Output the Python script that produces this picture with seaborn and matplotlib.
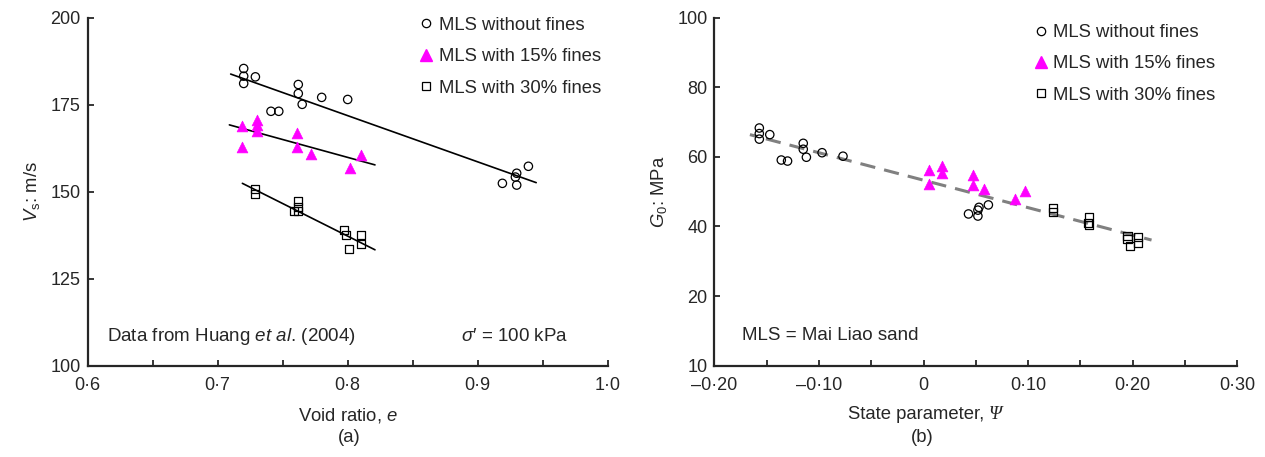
import pandas as pd
import numpy as np
import matplotlib
matplotlib.use("Agg")
import matplotlib.pyplot as plt
import seaborn as sns
from matplotlib.lines import Line2D
from matplotlib.ticker import MultipleLocator

# =============================================
# 1. Dados - painel (a): Vs x índice de vazios
# =============================================
e_sem_finos = [0.720, 0.720, 0.720, 0.729, 0.762, 0.762, 0.765, 0.741, 0.747, 0.780, 0.800,
               0.919, 0.929, 0.930, 0.930, 0.939]
vs_sem_finos = [185.4, 183.2, 181.1, 183.0, 180.8, 178.2, 175.1, 173.1, 173.1, 177.1, 176.5,
                152.4, 154.2, 155.3, 151.9, 157.3]

e_15_finos = [0.719, 0.719, 0.730, 0.730, 0.730, 0.761, 0.761, 0.772, 0.802, 0.810]
vs_15_finos = [168.8, 162.7, 170.7, 169.1, 167.4, 166.9, 162.7, 160.8, 156.9, 160.5]

e_30_finos = [0.729, 0.729, 0.759, 0.762, 0.762, 0.762, 0.797, 0.799, 0.801, 0.810, 0.810]
vs_30_finos = [150.8, 149.4, 144.4, 144.4, 145.6, 147.2, 138.9, 137.6, 133.6, 137.6, 134.9]

# retas de tendência
reta_a_sem_x = [0.710, 0.945]
reta_a_sem_y = [183.8, 152.6]
reta_a_15_x = [0.709, 0.821]
reta_a_15_y = [169.2, 157.7]
reta_a_30_x = [0.719, 0.821]
reta_a_30_y = [152.4, 133.3]

# =============================================
# 2. Dados - painel (b): G0 x parâmetro de estado
# =============================================
psi_sem_finos = [-0.157, -0.157, -0.157, -0.147, -0.115, -0.115, -0.112, -0.136, -0.130, -0.097, -0.077,
                 0.043, 0.052, 0.052, 0.053, 0.062]
g0_sem_finos = [68.3, 66.7, 65.1, 66.4, 63.9, 62.2, 59.9, 59.1, 58.8, 61.2, 60.2,
                43.6, 44.7, 43.0, 45.5, 46.2]

psi_15_finos = [0.0055, 0.0055, 0.0177, 0.0177, 0.0477, 0.0477, 0.058, 0.0875, 0.0973]
g0_15_finos = [56.2, 52.1, 57.3, 55.5, 54.8, 51.9, 50.7, 47.8, 50.2]

psi_30_finos = [0.124, 0.124, 0.158, 0.157, 0.158, 0.195, 0.197, 0.205, 0.205, 0.195]
g0_30_finos = [45.2, 44.2, 42.6, 41.1, 40.4, 37.3, 34.4, 36.9, 35.3, 36.3]

reta_b_x = [-0.166, 0.218]
reta_b_y = [66.4, 36.1]

# ticks
ticks_a_x = [0.6, 0.7, 0.8, 0.9, 1.0]
labels_a_x = ["0·6", "0·7", "0·8", "0·9", "1·0"]
ticks_a_y = [100, 125, 150, 175, 200]
ticks_b_x = [-0.2, -0.1, 0.0, 0.1, 0.2, 0.3]
labels_b_x = ["–0·20", "–0·10", "0", "0·10", "0·20", "0·30"]
ticks_b_y = [0, 20, 40, 60, 80, 100]
labels_b_y = ["10", "20", "40", "60", "80", "100"]

grupos = ["MLS without fines", "MLS with 15% fines", "MLS with 30% fines"]

df_a = pd.DataFrame({
    "e": e_sem_finos + e_15_finos + e_30_finos,
    "vs": vs_sem_finos + vs_15_finos + vs_30_finos,
    "grupo": [grupos[0]] * len(e_sem_finos) + [grupos[1]] * len(e_15_finos) + [grupos[2]] * len(e_30_finos),
})
df_b = pd.DataFrame({
    "psi": psi_sem_finos + psi_15_finos + psi_30_finos,
    "g0": g0_sem_finos + g0_15_finos + g0_30_finos,
    "grupo": [grupos[0]] * len(psi_sem_finos) + [grupos[1]] * len(psi_15_finos) + [grupos[2]] * len(psi_30_finos),
})

# =============================================
# 3. Estilo
# =============================================
sns.set_style("ticks")
plt.rcParams["font.family"] = ["Liberation Sans", "DejaVu Sans"]
plt.rcParams["mathtext.fontset"] = "custom"
plt.rcParams["mathtext.rm"] = "Liberation Sans"
plt.rcParams["mathtext.it"] = "Liberation Sans:italic"
plt.rcParams["mathtext.bf"] = "Liberation Sans:bold"

estilos = {
    grupos[0]: dict(marker="o", s=36, facecolor="none", edgecolor="black", linewidth=0.9),
    grupos[1]: dict(marker="^", s=60, facecolor="#ff00ff", edgecolor="#ff00ff", linewidth=0.5),
    grupos[2]: dict(marker="s", s=34, facecolor="none", edgecolor="black", linewidth=0.9),
}

fig = plt.figure(figsize=(12.65, 4.57), dpi=100)
ax_a = fig.add_axes([0.0693, 0.1998, 0.4111, 0.7615])
ax_b = fig.add_axes([0.5647, 0.1998, 0.4134, 0.7615])


def desenhar_pontos(ax, df, x, y):
    for g in grupos:
        sub = df[df["grupo"] == g]
        sns.scatterplot(data=sub, x=x, y=y, ax=ax, zorder=3, legend=False, **estilos[g])


def legenda(ax, loc_box):
    handles = [
        Line2D([], [], linestyle="none", marker="o", markersize=6, markerfacecolor="white",
               markeredgecolor="black", markeredgewidth=0.9),
        Line2D([], [], linestyle="none", marker="^", markersize=8, markerfacecolor="#ff00ff",
               markeredgecolor="#ff00ff"),
        Line2D([], [], linestyle="none", marker="s", markersize=6, markerfacecolor="white",
               markeredgecolor="black", markeredgewidth=0.9),
    ]
    ax.legend(handles, grupos, loc="upper left", bbox_to_anchor=loc_box, frameon=False,
              fontsize=13.3, handlelength=0.6, handletextpad=0.4, labelspacing=0.78,
              borderaxespad=0)


def formatar_eixos(ax):
    sns.despine(ax=ax)
    for lado in ["left", "bottom"]:
        ax.spines[lado].set_linewidth(1.6)
    ax.tick_params(which="both", direction="in", length=4, width=1.3, labelsize=13)
    ax.tick_params(axis="x", which="both", pad=8)
    ax.tick_params(axis="y", which="both", pad=5)


# ---------- painel (a) ----------
desenhar_pontos(ax_a, df_a, "e", "vs")
for rx, ry in [(reta_a_sem_x, reta_a_sem_y), (reta_a_15_x, reta_a_15_y), (reta_a_30_x, reta_a_30_y)]:
    sns.lineplot(x=rx, y=ry, ax=ax_a, color="black", lw=1.2, zorder=2)

ax_a.set_xlim(0.6, 1.0)
ax_a.set_ylim(100, 200)
ax_a.set_xticks(ticks_a_x, labels_a_x)
ax_a.xaxis.set_minor_locator(MultipleLocator(0.05))
ax_a.set_yticks(ticks_a_y)
formatar_eixos(ax_a)
ax_a.set_xlabel("Void ratio, $e$", fontsize=13.3, labelpad=9)
ax_a.set_ylabel("$V_{\\rm s}$: m/s", fontsize=13.3, labelpad=6)
ax_a.text(0.0365, 0.083, "Data from Huang $et$ $al$. (2004)", transform=ax_a.transAxes,
          fontsize=13.5, va="center", ha="left")
ax_a.text(0.718, 0.083, "$\\sigma$′ = 100 kPa", transform=ax_a.transAxes,
          fontsize=13.5, va="center", ha="left")
legenda(ax_a, (0.6265, 1.024))
fig.text(0.2759, 0.0416, "(a)", fontsize=13.3, ha="center", va="center")

# ---------- painel (b) ----------
sns.lineplot(x=reta_b_x, y=reta_b_y, ax=ax_b, color="#808080", lw=2.2, zorder=2,
             dashes=False, linestyle=(2.6, (5, 3)))
desenhar_pontos(ax_b, df_b, "psi", "g0")

ax_b.set_xlim(-0.2, 0.3)
ax_b.set_ylim(0, 100)
ax_b.set_xticks(ticks_b_x, labels_b_x)
ax_b.xaxis.set_minor_locator(MultipleLocator(0.05))
ax_b.set_yticks(ticks_b_y, labels_b_y)
formatar_eixos(ax_b)
ax_b.set_xlabel("")
# rótulo do eixo x com Ψ em itálico
ax_b.text(0.525, -0.139, "State parameter, ", transform=ax_b.transAxes,
          fontsize=13.3, ha="right", va="center")
ax_b.text(0.525, -0.139, "Ψ", transform=ax_b.transAxes, fontsize=13.5,
          ha="left", va="center", fontstyle="italic", family=["Liberation Serif", "DejaVu Serif"])
ax_b.set_ylabel("$G_0$: MPa", fontsize=13.3, labelpad=6)
ax_b.text(0.052, 0.087, "MLS = Mai Liao sand", transform=ax_b.transAxes,
          fontsize=13.5, va="center", ha="left")
legenda(ax_b, (0.599, 1.003))
fig.text(0.729, 0.0416, "(b)", fontsize=13.3, ha="center", va="center")

fig.savefig("out.png", dpi=100)
